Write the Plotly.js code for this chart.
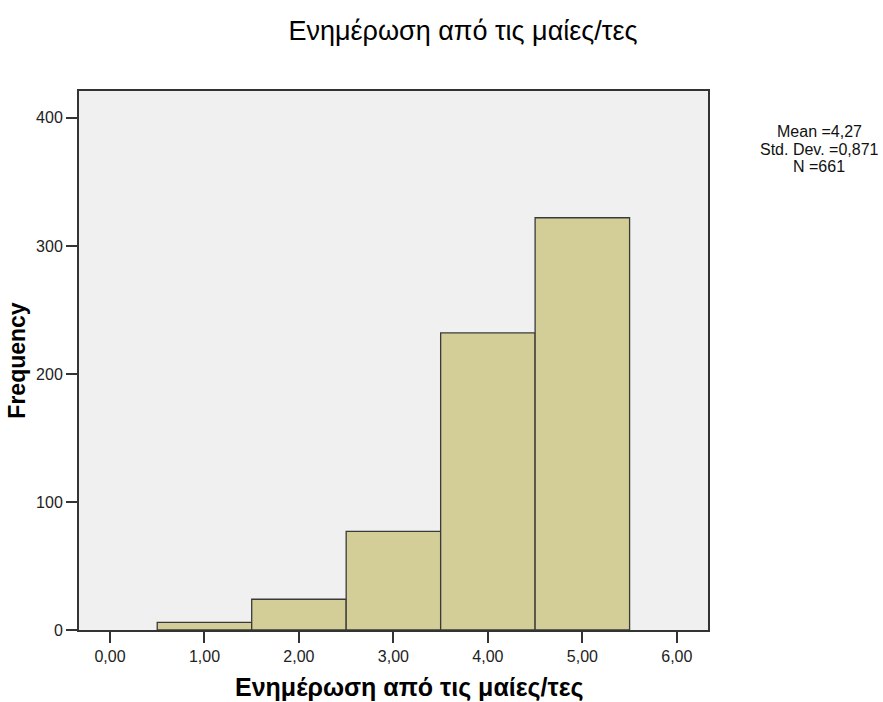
<!DOCTYPE html>
<html>
<head>
<meta charset="utf-8">
<script src="https://cdn.plot.ly/plotly-3.0.1.min.js"></script>
<style>body{margin:0;background:#fff}#chart{width:883px;height:702px}</style>
</head>
<body>
<div id="chart"></div>
<script>
const binCenters = [1, 2, 3, 4, 5];
const frequencies = [6, 24, 77, 232, 322];
const xTickVals = [0, 1, 2, 3, 4, 5, 6];
const xTickText = ["0,00", "1,00", "2,00", "3,00", "4,00", "5,00", "6,00"];
const yTickVals = [0, 100, 200, 300, 400];
const statsLines = ["Mean =4,27", "Std. Dev. =0,871", "N =661"];
const titleText = "Ενημέρωση από τις μαίες/τες";
const xTitleText = "Ενημέρωση από τις μαίες/τες";
const yTitleText = "Frequency";

const trace = {
  type: "bar",
  x: binCenters,
  y: frequencies,
  width: 1,
  marker: {color: "#d3ce97", line: {color: "#3a3a3a", width: 1.3}},
  hoverinfo: "x+y"
};

const plotL = 79, plotR = 708, plotT = 91, plotB = 630;
const W = 883, H = 702;
const statsAnnotations = statsLines.map((t, i) => ({
  xref: "paper", yref: "paper",
  x: (819 - plotL) / (plotR - plotL),
  y: 1 - (131.7 + i * 17.5 - plotT) / (plotB - plotT),
  xanchor: "center", yanchor: "middle",
  text: t, showarrow: false,
  font: {size: 16, color: "#111"}
}));

const xTitleAnnotation = {
  xref: "paper", yref: "paper",
  x: (409 - plotL) / (plotR - plotL),
  y: -(687 - plotB) / (plotB - plotT),
  xanchor: "center", yanchor: "middle",
  text: xTitleText, showarrow: false,
  font: {size: 25, weight: "bold", color: "#000"}
};

const layout = {
  width: W, height: H,
  margin: {l: plotL, r: W - plotR, t: plotT, b: H - plotB},
  paper_bgcolor: "#ffffff",
  plot_bgcolor: "#f0f0f0",
  font: {family: "Arial, 'Liberation Sans', sans-serif", color: "#222"},
  showlegend: false,
  title: {
    text: titleText,
    x: 463 / W, xanchor: "center", xref: "container",
    y: 1 - 31 / H, yanchor: "middle", yref: "container",
    font: {size: 27, weight: "normal", color: "#000"}
  },
  xaxis: {
    range: [-0.328, 6.33],
    tickvals: xTickVals, ticktext: xTickText,
    ticks: "outside", ticklen: 11, tickwidth: 2, tickcolor: "#333",
    tickfont: {size: 16, color: "#222"},
    showline: true, mirror: true, linecolor: "#333", linewidth: 2,
    showgrid: false, zeroline: false
  },
  yaxis: {
    range: [0, 421],
    tickvals: yTickVals,
    ticks: "outside", ticklen: 11, tickwidth: 2, tickcolor: "#333",
    tickfont: {size: 16, color: "#222"},
    showline: true, mirror: true, linecolor: "#333", linewidth: 2,
    showgrid: false, zeroline: false,
    title: {text: yTitleText, font: {size: 23, weight: "bold", color: "#000"}, standoff: 4}
  },
  annotations: statsAnnotations.concat([xTitleAnnotation])
};

Plotly.newPlot("chart", [trace], layout, {displayModeBar: false, staticPlot: true});
</script>
</body>
</html>
